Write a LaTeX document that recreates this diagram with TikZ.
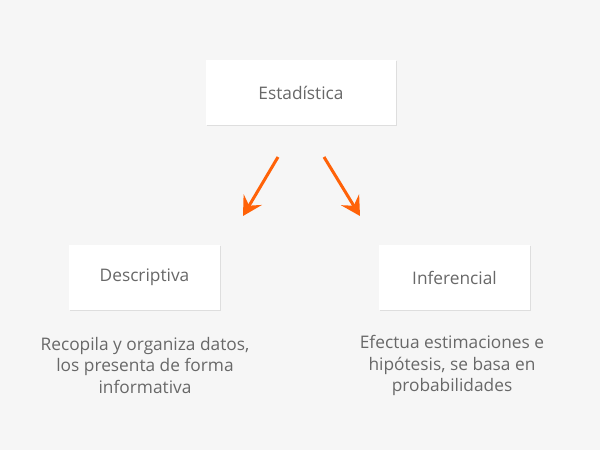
\documentclass[tikz,border=0pt]{standalone}
\usepackage{fontspec}
\setmainfont{Open Sans}
\usetikzlibrary{arrows.meta}
\definecolor{bg}{HTML}{F6F6F6}
\definecolor{txt}{HTML}{686868}
\definecolor{arr}{HTML}{FF6208}
\definecolor{shad}{HTML}{DEDEDE}
\tikzset{
  box/.style={fill=white, minimum width=151pt, minimum height=65pt, inner sep=0pt, font=\fontsize{17.3pt}{20pt}\selectfont, text=txt},
  desc/.style={align=center, font=\fontsize{17.3pt}{21.5pt}\selectfont, text=txt, inner sep=0pt},
  arrline/.style={draw=arr, line width=3pt, -{Stealth[length=19pt, width=21pt, inset=7pt]}},
}
\begin{document}
\begin{tikzpicture}[x=1pt, y=-1pt]
\useasboundingbox (0,0) rectangle (600,450);
\fill[bg] (0,0) rectangle (600,450);
% shadows
\fill[shad] (207,61) rectangle (397,126);
\fill[shad] (70,246) rectangle (221,311);
\fill[shad] (380,246) rectangle (531,311);
\node[box, minimum width=190pt] (est) at (301,92.5) {Estadística};
\node[box] (des) at (144.5,277.5) {Descriptiva};
\node[box] (inf) at (454.5,277.5) {Inferencial};
\node[desc] (dtxt) at (145,365.5) {Recopila y organiza datos,\\los presenta de forma\\informativa};
\node[desc] (itxt) at (452,365.5) {Efectua estimaciones e\\hipótesis, se basa en\\probabilidades};
\coordinate (a1s) at (278,157);
\coordinate (a1e) at (243,216);
\coordinate (a2s) at (324,157);
\coordinate (a2e) at (360,216);
\draw[arrline] (a1s) -- (a1e);
\draw[arrline] (a2s) -- (a2e);
\end{tikzpicture}
\end{document}
